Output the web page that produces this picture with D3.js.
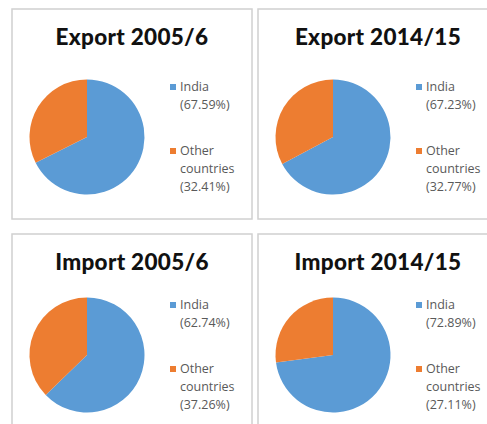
<!DOCTYPE html>
<html>
<head>
<meta charset="utf-8">
<script src="https://cdn.jsdelivr.net/npm/d3@7"></script>
<style>
  body { margin: 0; background: #fff; }
  svg { display: block; }
</style>
</head>
<body>
<div id="chart"></div>
<script>
// chart values
const titles = ['Export 2005/6', 'Export 2014/15', 'Import 2005/6', 'Import 2014/15'];
const categories = ['India', 'Other countries'];
const indiaShare = [67.59, 67.23, 62.74, 72.89];
const otherShare = [32.41, 32.77, 37.26, 27.11];

const colors = d3.scaleOrdinal().domain(categories).range(['#5b9bd5', '#ed7d31']);

const width = 487, height = 424;
const svg = d3.select('#chart').append('svg')
    .attr('width', width)
    .attr('height', height);

// panel boxes: two columns, two rows
const panelW = 240, panelH = 210;
const panelX = [12, 258];
const panelY = [9, 234];
const pieDy = [128, 121];

const pie = d3.pie().sort(null).value(d => d.value);
const arc = d3.arc().innerRadius(0).outerRadius(57.5);

titles.forEach((title, i) => {
    const col = i % 2, row = Math.floor(i / 2);
    const g = svg.append('g')
        .attr('transform', `translate(${panelX[col]},${panelY[row]})`);

    g.append('rect')
        .attr('x', 0).attr('y', 0)
        .attr('width', panelW).attr('height', panelH)
        .attr('fill', '#fff')
        .attr('stroke', '#d0d0d0')
        .attr('stroke-width', 1.5);

    g.append('text')
        .attr('x', panelW / 2)
        .attr('y', 36)
        .attr('text-anchor', 'middle')
        .attr('font-family', 'Lato, sans-serif')
        .attr('font-weight', 900)
        .attr('font-size', 22.5)
        .attr('letter-spacing', 0.3)
        .attr('fill', '#111')
        .text(title);

    const values = [
        { name: categories[0], value: indiaShare[i] },
        { name: categories[1], value: otherShare[i] }
    ];

    const cx = 75, cy = pieDy[row];
    g.append('g')
        .attr('transform', `translate(${cx},${cy})`)
        .selectAll('path')
        .data(pie(values))
        .enter().append('path')
        .attr('d', arc)
        .attr('fill', d => colors(d.data.name));

    // legend
    const legendLines = [
        ['India', `(${indiaShare[i].toFixed(2)}%)`],
        ['Other', 'countries', `(${otherShare[i].toFixed(2)}%)`]
    ];
    const legendY = [cy - 50, cy + 14];
    legendLines.forEach((lines, k) => {
        const lg = g.append('g').attr('transform', `translate(158,${legendY[k]})`);
        lg.append('rect')
            .attr('x', 0).attr('y', -3)
            .attr('width', 6).attr('height', 6)
            .attr('fill', colors(categories[k]));
        lg.selectAll('text')
            .data(lines)
            .enter().append('text')
            .attr('x', 10)
            .attr('y', (d, j) => j * 18 + 4)
            .attr('font-family', '"Open Sans", sans-serif')
            .attr('font-size', 12.5)
            .attr('fill', '#595959')
            .text(d => d);
    });
});
</script>
</body>
</html>
